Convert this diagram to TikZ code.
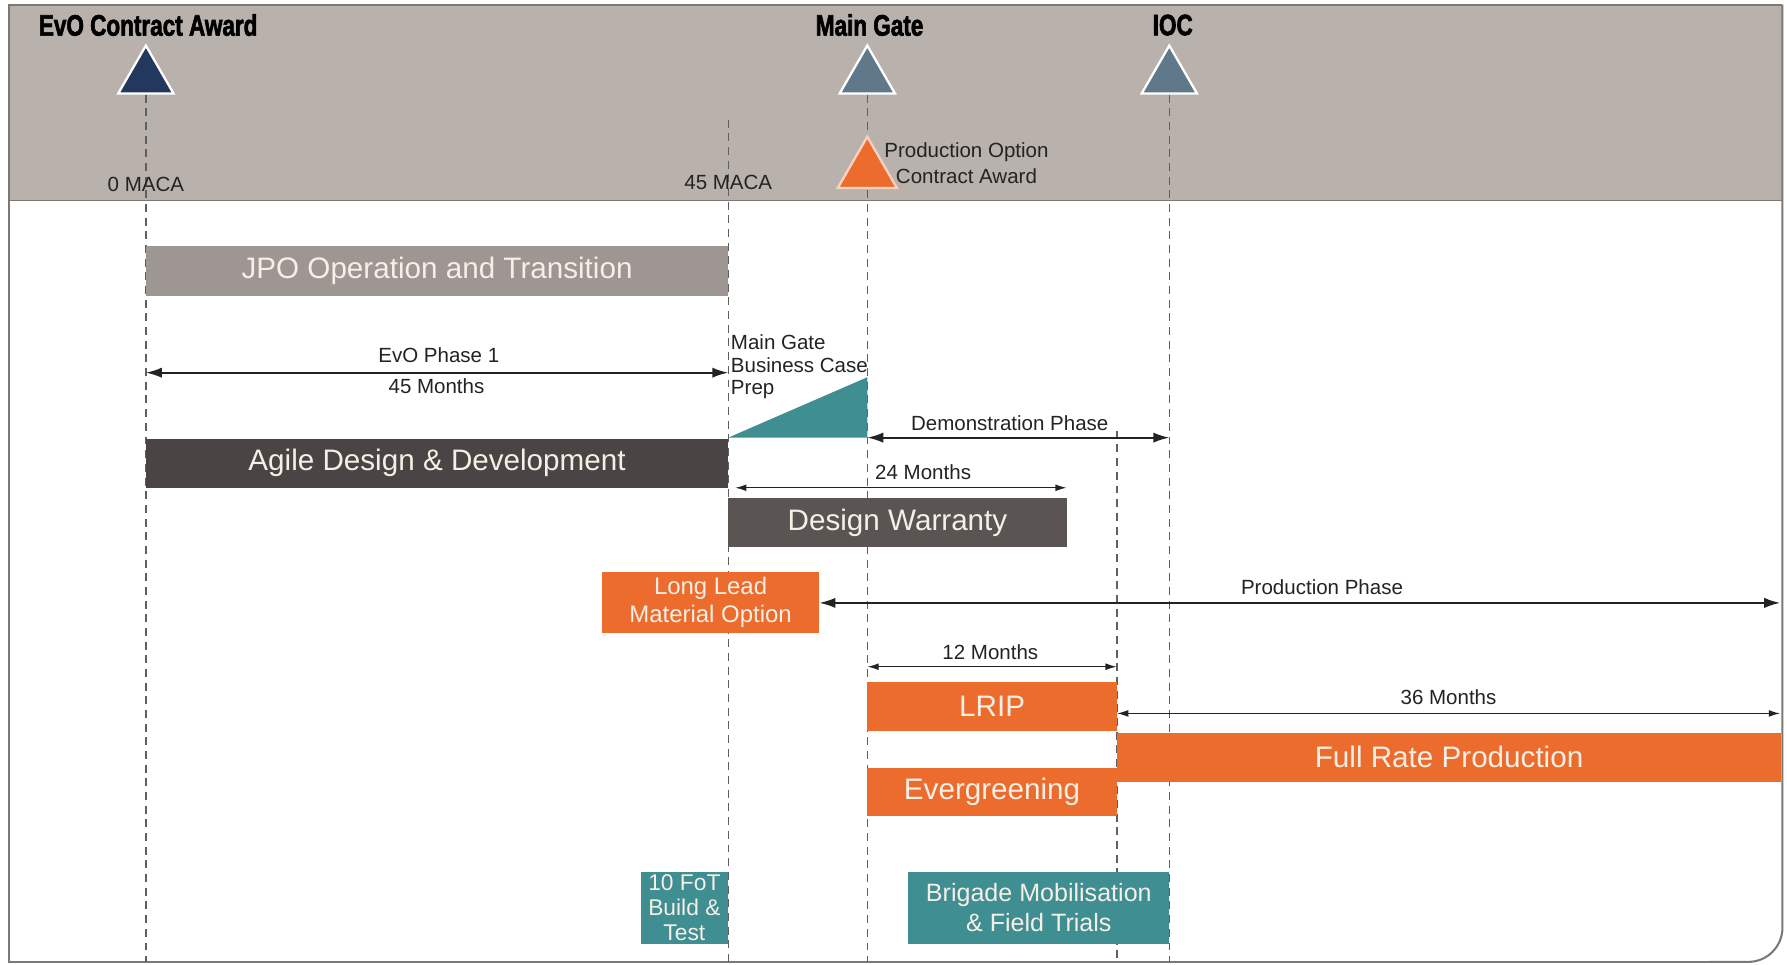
\documentclass[tikz,border=0pt]{standalone}
\usepackage{fontspec}
\setmainfont{Liberation Sans}
\newfontfamily\titlefont[FakeStretch=0.76,BoldFeatures={FakeBold=2}]{Liberation Sans}
\usetikzlibrary{arrows.meta,shapes.geometric}
\definecolor{hdr}{RGB}{185,178,172}
\definecolor{framec}{RGB}{125,120,117}
\definecolor{navy}{RGB}{35,56,95}
\definecolor{slate}{RGB}{95,120,138}
\definecolor{orng}{RGB}{236,108,46}
\definecolor{tealc}{RGB}{62,142,146}
\definecolor{jpoc}{RGB}{158,150,146}
\definecolor{agilec}{RGB}{74,69,68}
\definecolor{dwc}{RGB}{90,84,83}
\definecolor{cream}{RGB}{246,239,229}
\definecolor{dashc}{RGB}{95,95,95}
\definecolor{ink}{RGB}{35,35,35}
\begin{document}
\begin{tikzpicture}[x=0.5pt,y=-0.5pt,
  bar/.style={rectangle, inner sep=0pt, text=cream, font=\fontsize{13}{15}\selectfont, align=center},
  lbl/.style={inner sep=0pt, font=\fontsize{9}{10}\selectfont, text=ink},
  milestone/.style={regular polygon, regular polygon sides=3, minimum size=28pt, inner sep=0pt, draw=white, line width=1pt},
  vline/.style={draw=dashc, line width=0.6pt, dash pattern=on 3.5pt off 2.5pt},
  span/.style={{Latex[length=7pt,width=4.5pt]}-{Latex[length=7pt,width=4.5pt]}, line width=0.8pt, draw=ink},
  thinspan/.style={{Latex[length=5pt,width=3pt]}-{Latex[length=5pt,width=3pt]}, line width=0.6pt, draw=ink},
  title/.style={font=\titlefont\bfseries\fontsize{13}{15}\selectfont, inner sep=0pt, text=black}
]
\useasboundingbox (0,0) rectangle (1568,846);
% header band and frame
\fill[hdr] (8,4) rectangle (1564,176);
\draw[framec, line width=0.6pt] (8,176) -- (1564,176);
\draw[framec, line width=0.9pt] (1564,4) -- (8,4) -- (8,844) -- (1530,844);
\draw[framec, line width=0.9pt, rounded corners=15pt] (1500,844) -- (1564,844) -- (1564,4);

% coordinates
\coordinate (bA) at (128,844);
\coordinate (tB) at (639,105);
\coordinate (bB) at (639,844);
\coordinate (bC) at (761,844);
\coordinate (tD) at (980,378);
\coordinate (bD) at (980,844);
\coordinate (bE) at (1026,844);

% milestones
\node[milestone, fill=navy] (mEvo) at (128,68) {};
\node[milestone, fill=slate] (mMG) at (761,68) {};
\node[milestone, fill=slate] (mIOC) at (1026,68) {};

% dashed verticals
\draw[vline] (mEvo.south) -- (bA);
\draw[vline] (tB) -- (bB);
\draw[vline] (mMG.south) -- (bC);
\draw[vline] (tD) -- (bD);
\draw[vline] (mIOC.south) -- (bE);

\node[milestone, fill=orng, draw=orng!30!white, minimum size=30pt] (mPO) at (761,150) {};

% header texts
\node[title] (tEvo) at (130,22) {EvO Contract Award};
\node[title] (tMG) at (763,22) {Main Gate};
\node[title] (tIOC) at (1029,22) {IOC};
\node[lbl] (maca0) at (128,162) {0 MACA};
\node[lbl] (maca45) at (639,160) {45 MACA};
\node[lbl, align=center, font=\fontsize{9}{11.5}\selectfont] (poca) at (848,143) {Production Option\\Contract Award};

% bars
\node[bar, fill=jpoc, minimum width=255.5pt, minimum height=22pt] (jpo) at (383.5,238) {JPO Operation and Transition};
\node[bar, fill=agilec, minimum width=255.5pt, minimum height=21.5pt] (agile) at (383.5,406.5) {Agile Design \& Development};
\node[bar, fill=dwc, minimum width=148.5pt, minimum height=21.5pt] (dw) at (787.5,458.5) {Design Warranty};
\node[bar, fill=orng, minimum width=95.5pt, minimum height=26.5pt, font=\fontsize{10.5}{12}\selectfont] (llm) at (623.5,528.5) {Long Lead\\Material Option};
\node[bar, fill=orng, minimum width=109.5pt, minimum height=21.5pt] (lrip) at (870.5,619.5) {LRIP};
\node[bar, fill=orng, minimum width=291.5pt, minimum height=21.5pt] (frp) at (1271.5,664.5) {Full Rate Production};
\node[bar, fill=orng, minimum width=109.5pt, minimum height=21pt] (ever) at (870.5,695) {Evergreening};
\node[bar, fill=tealc, minimum width=38.5pt, minimum height=31.5pt, font=\fontsize{10}{11}\selectfont] (fot) at (600.5,796.5) {10 FoT\\Build \&\\Test};
\node[bar, fill=tealc, minimum width=114.5pt, minimum height=31.5pt, font=\fontsize{11}{13}\selectfont] (brig) at (911.5,796.5) {Brigade Mobilisation\\\& Field Trials};

% main gate business case wedge
\fill[tealc] (639,384) -- (761,384) -- (761,331) -- cycle;
\node[lbl, anchor=north west, align=left] (mgbc) at (641,293) {Main Gate\\Business Case\\Prep};

% spans
\coordinate (p1L) at (128,327); \coordinate (p1R) at (639,327);
\draw[span] (p1L) -- (p1R);
\node[lbl] (p1a) at (385,312) {EvO Phase 1};
\node[lbl] (p1b) at (383,339) {45 Months};

\coordinate (dmL) at (761,384); \coordinate (dmR) at (1026,384);
\draw[span] (dmL) -- (dmR);
\node[lbl] (dml) at (886,371) {Demonstration Phase};

\coordinate (m24L) at (645,428); \coordinate (m24R) at (936,428);
\draw[thinspan] (m24L) -- (m24R);
\node[lbl] (m24) at (810,414) {24 Months};

\coordinate (ppL) at (719,529); \coordinate (ppR) at (1562,529);
\draw[span] (ppL) -- (ppR);
\node[lbl] (ppl) at (1160,515) {Production Phase};

\coordinate (m12L) at (761,585); \coordinate (m12R) at (980,585);
\draw[thinspan] (m12L) -- (m12R);
\node[lbl] (m12) at (869,572) {12 Months};

\coordinate (m36L) at (980,626); \coordinate (m36R) at (1562,626);
\draw[thinspan] (m36L) -- (m36R);
\node[lbl] (m36) at (1271,612) {36 Months};
\end{tikzpicture}
\end{document}
